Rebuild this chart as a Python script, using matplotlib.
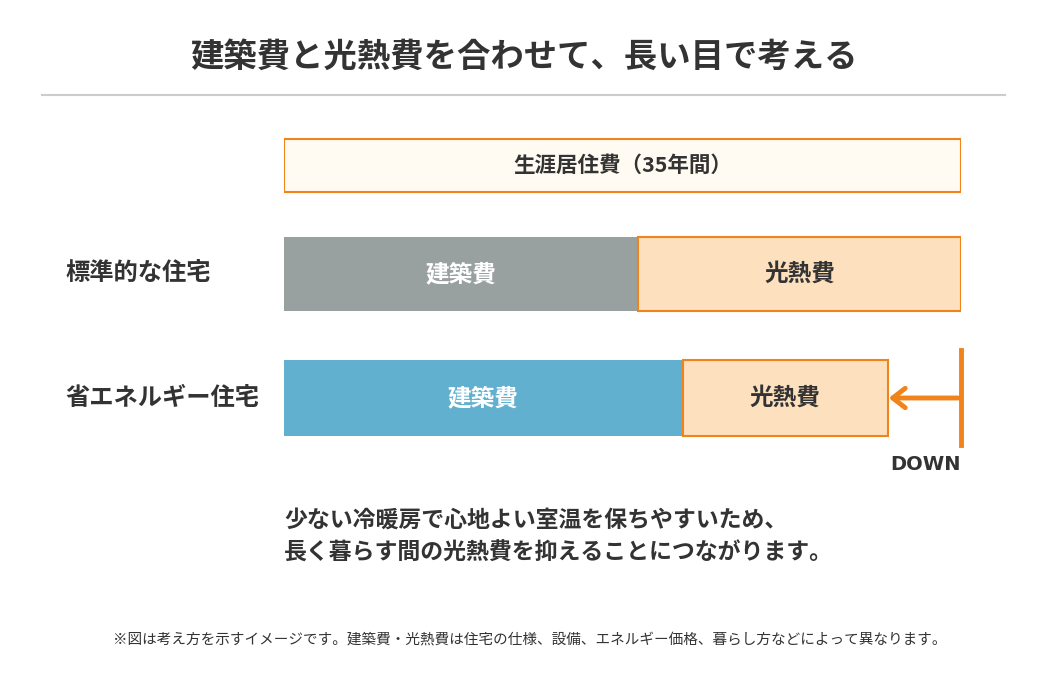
import matplotlib.pyplot as plt

plt.rcParams['font.family'] = ['Noto Sans CJK JP', 'DejaVu Sans']

W, H = 1044, 697
rows = ["生涯居住費（35年間）", "標準的な住宅", "省エネルギー住宅"]
build_cost = [None, 52.3, 58.9]   # % of lifetime cost
energy_cost = [None, 47.7, 30.3]
total = 100
ORANGE = "#f0831a"
PEACH = "#fde0bd"

fig = plt.figure(figsize=(W / 100, H / 100), dpi=100)
bg = fig.add_axes([0, 0, 1, 1])
bg.set_xlim(0, W)
bg.set_ylim(H, 0)
bg.axis("off")

x0, x1 = 284, 961
ax = fig.add_axes([x0 / W, 0, (x1 - x0) / W, 1])
ax.set_xlim(0, total)
ax.set_ylim(H, 0)
ax.axis("off")
ax.patch.set_alpha(0)

bg.text(524, 57, "建築費と光熱費を合わせて、長い目で考える", ha="center", va="center",
        fontsize=24, fontweight="bold", color="#333333")
bg.plot([42, 1005], [95, 95], color="#cccccc", lw=1.5)

# total bar
ax.barh(165.5, total, height=53, left=0, color="#fffaf2", edgecolor=ORANGE, lw=1.5)
ax.text(total / 2, 165.5, rows[0], ha="center", va="center", fontsize=15.5,
        fontweight="bold", color="#333333")

ys = [274, 398]
hs = [74, 76]
bcol = ["#99a0a0", "#62b0d0"]
for i, (y, h) in enumerate(zip(ys, hs), start=1):
    ax.barh(y, build_cost[i], height=h, color=bcol[i - 1])
    ax.barh(y, energy_cost[i], height=h, left=build_cost[i], color=PEACH,
            edgecolor=ORANGE, lw=1.5)
    ax.text(build_cost[i] / 2, y, "建築費", ha="center", va="center", fontsize=17,
            fontweight="bold", color="white")
    ax.text(build_cost[i] + energy_cost[i] / 2, y, "光熱費", ha="center", va="center",
            fontsize=17, fontweight="bold", color="#333333")
    bg.text(65, y, rows[i], ha="left", va="center", fontsize=17.5, fontweight="bold",
            color="#333333")

# DOWN arrow
bg.plot([961, 961], [350, 445], color=ORANGE, lw=3.5)
bg.annotate("", xy=(886, 398), xytext=(961, 398),
            arrowprops=dict(arrowstyle="->,head_length=0.9,head_width=0.7",
                            color=ORANGE, lw=3.5))
bg.text(926, 465, "DOWN", ha="center", va="center", fontsize=14, fontweight="bold",
        color="#333333", family="DejaVu Sans")

bg.text(284, 520, "少ない冷暖房で心地よい室温を保ちやすいため、", ha="left", va="center",
        fontsize=16.5, fontweight="bold", color="#333333")
bg.text(284, 553, "長く暮らす間の光熱費を抑えることにつながります。", ha="left", va="center",
        fontsize=16.5, fontweight="bold", color="#333333")
bg.text(530, 640, "※図は考え方を示すイメージです。建築費・光熱費は住宅の仕様、設備、エネルギー価格、暮らし方などによって異なります。",
        ha="center", va="center", fontsize=10.5, color="#333333")

fig.savefig("out.png", dpi=100)
